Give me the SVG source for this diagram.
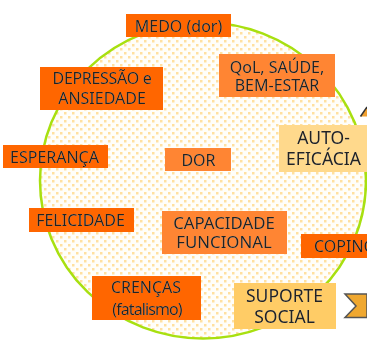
<svg xmlns="http://www.w3.org/2000/svg" width="367" height="340" viewBox="0 0 367 340">
<style>
.t{font-family:"Noto Sans","Open Sans",sans-serif;font-size:16px;fill:#222;text-anchor:middle;filter:drop-shadow(.7px .7px 0 rgba(255,255,255,.75))}
.l{font-size:16.8px}
.a{fill:#ff6600}.b{fill:#ff8533}.c{fill:#ffd98c}.d{fill:#ffcc66}
</style>
<defs>
<pattern id="dots" width="8" height="8" patternUnits="userSpaceOnUse">
<rect width="8" height="8" fill="#fffefa"/>
<rect x="0" y="0" width="2.500" height="2.500" fill="#ffe0a0"/>
<rect x="4" y="4" width="2.500" height="2.500" fill="#ffe0a0"/>
</pattern>
</defs>
<rect width="367" height="340" fill="#fff"/>
<g id="circle"><ellipse cx="203" cy="180.500" rx="163" ry="158" fill="url(#dots)" stroke="#a8e010" stroke-width="2.500"/></g>
<g id="connectors">
<path d="M360.500 116.500L367 107V116.500Z" fill="#f0a030"/>
<path d="M360.500 116.500L367 107" fill="none" stroke="#333" stroke-width="1.500"/>
<path d="M345 294H367V317.500H345L356 306Z" fill="#f0a830" stroke="#555" stroke-width="1.500"/>
</g>
<g id="medo"><rect class="a" x="126" y="14" width="105" height="23"/><text class="t" x="178.500" y="32">MEDO (dor)</text></g>
<g id="depressao"><rect class="a" x="40" y="67" width="123" height="43"/><text class="t" x="102" y="84" style="letter-spacing:-.3px">DEPRESSÃO e</text><text class="t" x="102" y="104">ANSIEDADE</text></g>
<g id="esperanca"><rect class="a" x="3" y="145" width="105" height="23"/><text class="t" x="54.500" y="163">ESPERANÇA</text></g>
<g id="qol"><rect class="b" x="219" y="54" width="116" height="43"/><text class="t" x="277" y="73">QoL, SAÚDE,</text><text class="t" x="277" y="91">BEM-ESTAR</text></g>
<g id="autoeficacia"><rect class="c" x="279" y="125" width="88" height="47"/><text class="t" x="323.500" y="144" style="font-size:17.500px">AUTO-</text><text class="t" x="323.500" y="165" style="font-size:17.500px">EFICÁCIA</text></g>
<g id="dor"><rect class="b" x="165" y="148" width="66" height="23"/><text class="t" x="198.500" y="166">DOR</text></g>
<g id="felicidade"><rect class="a" x="29" y="208" width="105" height="24"/><text class="t" x="80.500" y="226">FELICIDADE</text></g>
<g id="capacidade"><rect class="b" x="162" y="211" width="125" height="43"/><text class="t l" x="224" y="229">CAPACIDADE</text><text class="t l" x="224" y="248">FUNCIONAL</text></g>
<g id="coping"><rect class="a" x="301" y="234" width="66" height="24"/><text class="t" x="314" y="252" style="text-anchor:start">COPING</text></g>
<g id="crencas"><rect class="a" x="92" y="276" width="109" height="44"/><text class="t" x="146" y="293">CRENÇAS</text><text class="t" x="147" y="315" style="letter-spacing:-.9px;font-size:16px">(fatalismo)</text></g>
<g id="suporte"><rect class="d" x="234" y="283" width="102" height="46"/><text class="t" x="284.500" y="302" style="font-size:17.500px">SUPORTE</text><text class="t" x="284.500" y="323" style="font-size:17.500px">SOCIAL</text></g>
</svg>
